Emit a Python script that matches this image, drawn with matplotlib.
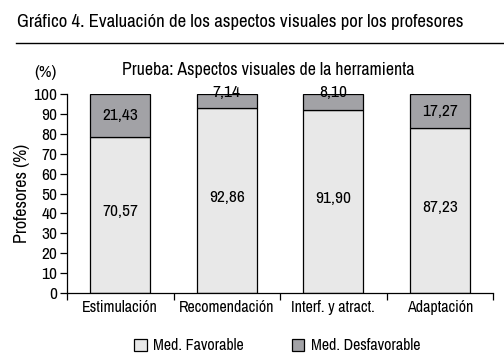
import matplotlib
matplotlib.use("Agg")
import matplotlib.pyplot as plt
from matplotlib import font_manager
from matplotlib.patches import Patch
import numpy as np

names = {f.name for f in font_manager.fontManager.ttflist}
if "Archivo Narrow" in names:
    plt.rcParams['font.family'] = ['Archivo Narrow', 'DejaVu Sans']
else:
    plt.rcParams['font.family'] = ['DejaVu Sans']
    plt.rcParams['font.stretch'] = 'condensed'

categories = ["Estimulación", "Recomendación", "Interf. y atract.", "Adaptación"]
desfav_vals = [21.43, 7.14, 8.10, 17.27]
fav_vals = [78.57, 92.86, 91.90, 82.73]
fav_labels = ["70,57", "92,86", "91,90", "87,23"]
desfav_labels = ["21,43", "7,14", "8,10", "17,27"]
yticks = list(range(0, 101, 10))

fig = plt.figure(figsize=(5.04, 3.62), dpi=100)
ax = fig.add_axes([67/504, 1-293/362, (493-67)/504, (293-94)/362])

x = np.arange(len(categories))
c_fav = "#e8e8e8"
c_des = "#a2a2a6"
w = 0.56
ax.bar(x, fav_vals, w, color=c_fav, edgecolor="black", linewidth=0.9)
ax.bar(x, desfav_vals, w, bottom=fav_vals, color=c_des, edgecolor="black", linewidth=0.9)

fs = 12.5
for i in range(len(categories)):
    ax.text(x[i], fav_vals[i] / 2 + 1.5, fav_labels[i], ha="center", va="center", fontsize=fs)
    if desfav_vals[i] < 10:
        ypos = fav_vals[i] + desfav_vals[i] + 0.8
    else:
        ypos = fav_vals[i] + desfav_vals[i] / 2
    ax.text(x[i], ypos, desfav_labels[i], ha="center", va="center", fontsize=fs)

ax.set_xlim(-0.5, len(categories) - 0.5)
ax.set_ylim(0, 100)
ax.set_yticks(yticks)
ax.set_yticklabels([str(v) for v in yticks], fontsize=fs)
ax.set_xticks(x)
ax.set_xticklabels(categories, fontsize=11.5)
ax.tick_params(axis="x", length=0, pad=5)
ax.set_xticks(np.arange(-0.5, len(categories)), minor=True)
ax.tick_params(axis="x", which="minor", length=5, width=0.9, direction="out")
ax.tick_params(axis="y", length=5, width=0.9, direction="out", pad=2)
ax.spines["top"].set_visible(False)
ax.spines["right"].set_visible(False)
ax.spines["left"].set_linewidth(0.9)
ax.spines["bottom"].set_linewidth(0.9)
ax.set_ylabel("Profesores (%)", fontsize=13, labelpad=2)

fig.text(45/504, 1-72/362, "(%)", fontsize=fs, ha="center", va="center")
fig.text(268/504, 1-70/362, "Prueba: Aspectos visuales de la herramienta", fontsize=12.8, ha="center", va="center")
fig.text(17/504, 1-22/362, "Gráfico 4. Evaluación de los aspectos visuales por los profesores", fontsize=13.5, ha="left", va="center")
fig.add_artist(plt.Line2D([16/504, 1.0], [1-43/362, 1-43/362], color="black", linewidth=1.0))

handles = [Patch(facecolor=c_fav, edgecolor="black", linewidth=0.9, label="Med. Favorable"),
           Patch(facecolor=c_des, edgecolor="black", linewidth=0.9, label="Med. Desfavorable")]
fig.legend(handles=handles, loc="center", bbox_to_anchor=(277/504, 1-346/362), ncol=2, frameon=False,
           fontsize=11.5, handlelength=0.8, handleheight=0.8, handletextpad=0.4, columnspacing=3.0)

fig.savefig("out.png", dpi=100)
